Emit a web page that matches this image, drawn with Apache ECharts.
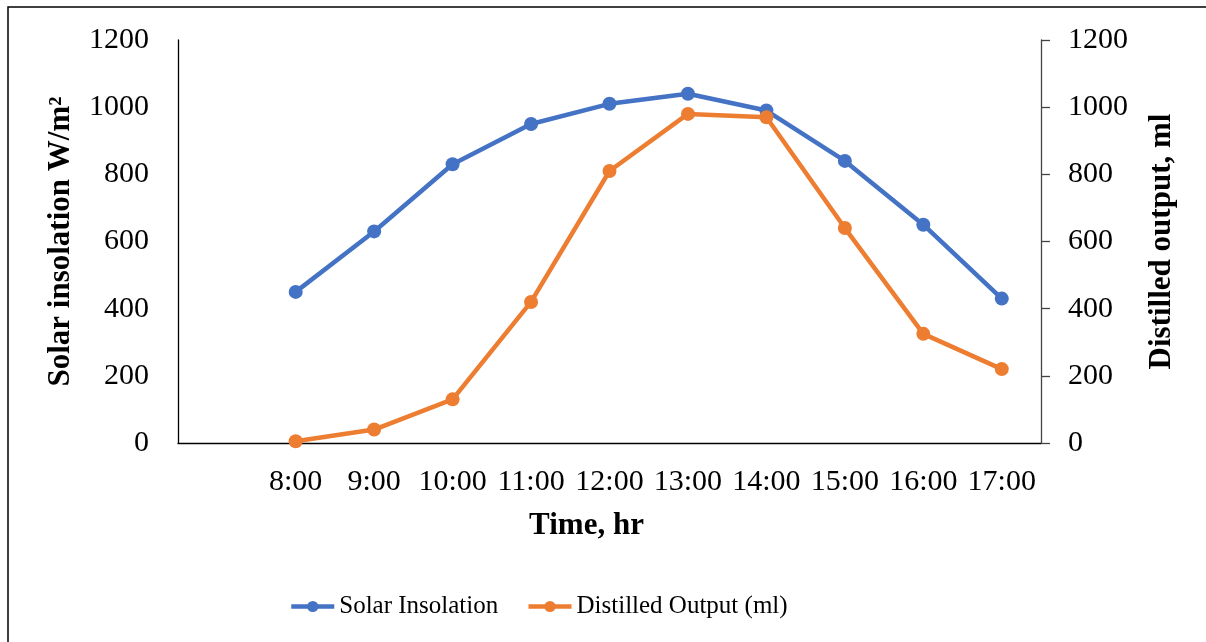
<!DOCTYPE html>
<html>
<head>
<meta charset="utf-8">
<script src="https://cdn.jsdelivr.net/npm/echarts@6/dist/echarts.min.js"></script>
<style>
  html, body { margin: 0; padding: 0; background: #fff; }
  #chart { width: 1206px; height: 642px; }
</style>
</head>
<body>
<div id="chart"></div>
<script>
// first slot is left empty, as in the original sheet
const hours = ["", "8:00", "9:00", "10:00", "11:00", "12:00", "13:00", "14:00", "15:00", "16:00", "17:00"];
const solarInsolation = [null, 450, 630, 830, 950, 1010, 1040, 990, 840, 650, 430];
const distilledOutput = [null, 5, 40, 130, 420, 810, 980, 970, 640, 325, 220];
const yTicks = [0, 200, 400, 600, 800, 1000, 1200];

const font = "Liberation Serif";
const blue = "#4472C4";
const orange = "#ED7D31";

const chart = echarts.init(document.getElementById("chart"));

const valueAxis = (name, position, showTicks) => ({
  type: "value",
  position,
  min: yTicks[0],
  max: yTicks[yTicks.length - 1],
  interval: 200,
  name,
  nameLocation: "middle",
  nameRotate: 90,
  nameGap: position === "left" ? 102 : 105,
  nameTextStyle: { fontFamily: font, fontSize: 31, fontWeight: "bold", color: "#000" },
  axisLine: { show: true, lineStyle: { color: position === "left" ? "#000" : "#444", width: 1.3 } },
  axisTick: { show: showTicks, inside: false, length: 9, lineStyle: { color: "#444", width: 1.3 } },
  axisLabel: {
    fontFamily: font, fontSize: 30, color: "#000",
    margin: position === "left" ? 29 : 27,
    formatter: (v) => String(v),
  },
  splitLine: { show: false },
});

const option = {
  backgroundColor: "#fff",
  animation: false,
  graphic: [
    {
      type: "rect",
      shape: { x: 8, y: 7, width: 1210, height: 650 },
      style: { fill: "none", stroke: "#000", lineWidth: 1.5 },
      silent: true,
    },
  ],
  grid: { left: 178, right: 165, top: 40, bottom: 199 },
  legend: {
    bottom: 23,
    left: 289,
    padding: 0,
    itemWidth: 43,
    itemHeight: 14,
    itemGap: 28,
    lineStyle: { width: "inherit" },
    textStyle: { fontFamily: font, fontSize: 25, color: "#000" },
    data: ["Solar Insolation", "Distilled Output (ml)"],
  },
  xAxis: {
    type: "category",
    data: hours,
    boundaryGap: true,
    name: "Time, hr",
    nameLocation: "middle",
    nameGap: 67,
    nameTextStyle: {
      fontFamily: font, fontSize: 31, fontWeight: "bold", color: "#000",
      padding: [0, 46, 0, 0],
    },
    axisLine: { lineStyle: { color: "#000", width: 1.3 } },
    axisTick: { show: false },
    axisLabel: { fontFamily: font, fontSize: 30, color: "#000", margin: 24, interval: 0 },
  },
  yAxis: [
    valueAxis("Solar insolation W/m\u00b2", "left", false),
    valueAxis("Distilled output, ml", "right", true),
  ],
  series: [
    {
      name: "Solar Insolation",
      type: "line",
      yAxisIndex: 0,
      data: solarInsolation,
      symbol: "circle",
      symbolSize: 14,
      lineStyle: { color: blue, width: 4.5 },
      itemStyle: { color: blue },
    },
    {
      name: "Distilled Output (ml)",
      type: "line",
      yAxisIndex: 1,
      data: distilledOutput,
      symbol: "circle",
      symbolSize: 14,
      lineStyle: { color: orange, width: 4.5 },
      itemStyle: { color: orange },
    },
  ],
};

chart.setOption(option);
</script>
</body>
</html>
